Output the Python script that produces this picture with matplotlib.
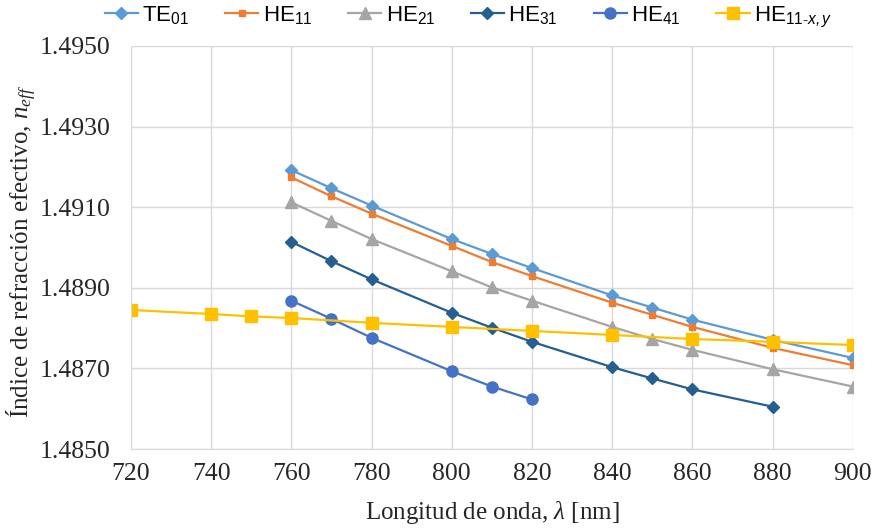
import numpy as np
import matplotlib.pyplot as plt

plt.rcParams['font.family'] = ['Liberation Serif', 'DejaVu Serif']
plt.rcParams['mathtext.fontset'] = 'custom'
plt.rcParams['mathtext.rm'] = 'Liberation Serif'
plt.rcParams['mathtext.it'] = 'Liberation Serif:italic'
plt.rcParams['mathtext.sf'] = 'Liberation Sans'
plt.rcParams['mathtext.bf'] = 'Liberation Sans:italic'  # used for the sans italic "x,y" in legend

# wavelengths (nm)
wl_main = [760, 770, 780, 800, 810, 820, 840, 850, 860, 880, 900]
wl_he31 = [760, 770, 780, 800, 810, 820, 840, 850, 860, 880]
wl_he41 = [760, 770, 780, 800, 810, 820]
wl_xy = [720, 740, 750, 760, 780, 800, 820, 840, 860, 880, 900]

te01 = [1.49192, 1.49147, 1.49104, 1.49021, 1.48984, 1.48949, 1.48881, 1.48851, 1.48821, 1.48771, 1.48726]
he11 = [1.49174, 1.49127, 1.49084, 1.49004, 1.48964, 1.48929, 1.48863, 1.48833, 1.48803, 1.48751, 1.48708]
he21 = [1.49112, 1.49066, 1.49021, 1.48941, 1.48901, 1.48868, 1.48803, 1.48773, 1.48746, 1.48698, 1.48655]
he31 = [1.49014, 1.48966, 1.48921, 1.48838, 1.48801, 1.48766, 1.48703, 1.48675, 1.48648, 1.48605]
he41 = [1.48868, 1.48823, 1.48776, 1.48693, 1.48655, 1.48623]
he11xy = [1.48845, 1.48835, 1.48829, 1.48825, 1.48813, 1.48803, 1.48793, 1.48783, 1.48773, 1.48766, 1.48758]

fig = plt.figure(figsize=(8.76, 5.31), dpi=100)
ax = fig.add_axes([0.1495, 0.1544, 0.824, 0.759])

ax.plot(wl_main, te01, color='#5B9BD5', marker='D', markersize=6, lw=1.6, label=r'TE$_{\mathsf{01}}$')
ax.plot(wl_main, he11, color='#ED7D31', marker='s', markersize=5, lw=1.6, label=r'HE$_{\mathsf{11}}$')
ax.plot(wl_main, he21, color='#A5A5A5', marker='^', markersize=8, lw=1.6, label=r'HE$_{\mathsf{21}}$')
ax.plot(wl_he31, he31, color='#255E91', marker='D', markersize=6, lw=1.6, label=r'HE$_{\mathsf{31}}$')
ax.plot(wl_he41, he41, color='#4472C4', marker='o', markersize=8, lw=1.6, label=r'HE$_{\mathsf{41}}$')
ax.plot(wl_xy, he11xy, color='#FFC000', marker='s', markersize=8, lw=1.6, label=r'HE$_{\mathsf{11\text{-}}\mathbf{x,y}}$')

ax.set_xlim(720, 900)
ax.set_ylim(1.4850, 1.4950)
ax.set_xticks(np.arange(720, 901, 20))
ax.set_yticks(np.arange(1.4850, 1.49501, 0.002))
ax.yaxis.set_major_formatter(plt.FormatStrFormatter('%.4f'))
ax.tick_params(labelsize=18.5, length=0, colors='#262626')
ax.tick_params(axis='x', pad=10)
ax.tick_params(axis='y', pad=15)
ax.grid(True, color='#D9D9D9', lw=1)
for s in ax.spines.values():
    s.set_visible(False)
ax.spines['left'].set_visible(True)
ax.spines['left'].set_color('#D9D9D9')
ax.spines['bottom'].set_visible(True)
ax.spines['bottom'].set_color('#D9D9D9')

ax.set_xlabel(r'Longitud de onda, $\lambda$ [nm]', fontsize=18, color='#262626')
ax.set_ylabel(r'Índice de refracción efectivo, $n_{eff}$', fontsize=18, color='#262626')
ax.xaxis.set_label_coords(0.5, -0.125)
ax.yaxis.set_label_coords(-0.128, 0.49)

leg = fig.legend(loc='upper center', bbox_to_anchor=(0.535, 1.03), ncol=6, frameon=False,
                 prop={'family': 'Liberation Sans', 'size': 16}, handlelength=1.5,
                 handletextpad=0.2, columnspacing=1.6)

fig.savefig('out.png', dpi=100)
